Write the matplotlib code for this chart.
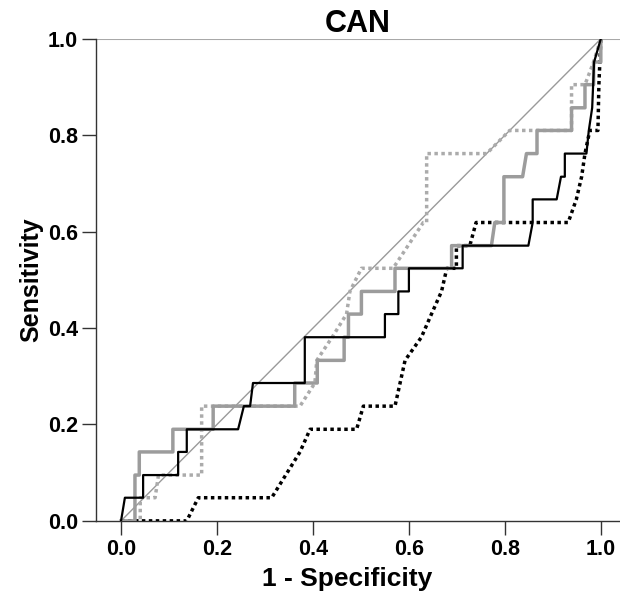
import matplotlib
matplotlib.use("Agg")
import matplotlib.pyplot as plt


TITLE = "CAN"
X_LABEL = "1 - Specificity"
Y_LABEL = "Sensitivity"

TICKS = [0.0, 0.2, 0.4, 0.6, 0.8, 1.0]
TICK_LABELS = ["0.0", "0.2", "0.4", "0.6", "0.8", "1.0"]

# black solid curve
black_solid_x = [0.000, 0.008, 0.046, 0.046, 0.119, 0.119, 0.137, 0.137, 0.244, 0.256,
                 0.269, 0.275, 0.383, 0.383, 0.550, 0.550, 0.578, 0.578, 0.600, 0.600,
                 0.712, 0.712, 0.849, 0.858, 0.858, 0.908, 0.917, 0.925, 0.925, 0.970,
                 0.975, 0.982, 0.986, 1.000]
black_solid_y = [0.000, 0.048, 0.048, 0.095, 0.095, 0.143, 0.143, 0.190, 0.190, 0.238,
                 0.238, 0.286, 0.286, 0.381, 0.381, 0.429, 0.429, 0.476, 0.476, 0.524,
                 0.524, 0.571, 0.571, 0.619, 0.667, 0.667, 0.714, 0.714, 0.762, 0.762,
                 0.810, 0.857, 0.952, 1.000]

# grey solid curve
grey_solid_x = [0.000, 0.029, 0.029, 0.038, 0.038, 0.108, 0.108, 0.192, 0.192, 0.362,
                0.362, 0.409, 0.409, 0.465, 0.465, 0.474, 0.474, 0.501, 0.501, 0.571,
                0.571, 0.689, 0.689, 0.772, 0.779, 0.798, 0.798, 0.837, 0.845, 0.867,
                0.867, 0.939, 0.939, 0.967, 0.967, 0.985, 0.985, 1.000, 1.000]
grey_solid_y = [0.000, 0.000, 0.095, 0.095, 0.143, 0.143, 0.190, 0.190, 0.238, 0.238,
                0.286, 0.286, 0.333, 0.333, 0.381, 0.381, 0.429, 0.429, 0.476, 0.476,
                0.524, 0.524, 0.571, 0.571, 0.619, 0.619, 0.714, 0.714, 0.762, 0.762,
                0.810, 0.810, 0.857, 0.857, 0.905, 0.905, 0.952, 0.952, 1.000]

# grey dotted curve
grey_dot_x = [0.000, 0.040, 0.040, 0.071, 0.078, 0.168, 0.168, 0.373, 0.404, 0.408,
              0.440, 0.470, 0.477, 0.501, 0.567, 0.630, 0.637, 0.637, 0.762, 0.810,
              0.939, 0.939, 0.967, 0.985, 1.000]
grey_dot_y = [0.000, 0.000, 0.048, 0.048, 0.095, 0.095, 0.238, 0.238, 0.286, 0.333,
              0.381, 0.429, 0.476, 0.524, 0.524, 0.619, 0.619, 0.762, 0.762, 0.810,
              0.810, 0.905, 0.905, 0.952, 1.000]

# black dotted curve
black_dot_x = [0.000, 0.137, 0.161, 0.314, 0.373, 0.394, 0.491, 0.505, 0.571, 0.592,
               0.626, 0.647, 0.668, 0.679, 0.699, 0.699, 0.727, 0.740, 0.932, 0.949,
               0.960, 0.967, 0.977, 0.994, 0.996, 0.998, 1.000]
black_dot_y = [0.000, 0.000, 0.048, 0.048, 0.143, 0.190, 0.190, 0.238, 0.238, 0.333,
               0.381, 0.429, 0.476, 0.524, 0.524, 0.571, 0.571, 0.619, 0.619, 0.667,
               0.714, 0.762, 0.810, 0.810, 0.905, 0.952, 1.000]


def main():

    plt.rcParams["font.family"] = ["Liberation Sans", "DejaVu Sans"]
    plt.rcParams["font.weight"] = "bold"

    fig = plt.figure(figsize=(6.2, 5.98), dpi=100)
    ax = fig.add_axes([0.155, 0.129, 0.845, 0.806])

    # reference lines
    ax.plot([0, 1], [0, 1], color="#9a9a9a", linewidth=1.0, zorder=1)
    ax.axhline(1.0, color="#a8a8a8", linewidth=1.5, zorder=1)

    ax.plot(grey_dot_x, grey_dot_y, color="#ababab", linewidth=2.5,
            linestyle=(0, (1, 1)), dash_capstyle="butt", zorder=2)
    ax.plot(black_dot_x, black_dot_y, color="black", linewidth=2.5,
            linestyle=(0, (1, 1)), dash_capstyle="butt", zorder=3)
    ax.plot(grey_solid_x, grey_solid_y, color="#9c9c9c", linewidth=2.5, zorder=4)
    ax.plot(black_solid_x, black_solid_y, color="black", linewidth=1.6, zorder=5)

    ax.set_xlim(-0.052, 1.04)
    ax.set_ylim(0.0, 1.0)

    ax.set_xticks(TICKS)
    ax.set_xticklabels(TICK_LABELS)
    ax.set_yticks(TICKS)
    ax.set_yticklabels(TICK_LABELS)

    ax.tick_params(axis="both", direction="out", length=10, width=1.0,
                   color="#333333", labelsize=15.5, pad=3)

    for side in ["top", "right"]:
        ax.spines[side].set_visible(False)
    for side in ["left", "bottom"]:
        ax.spines[side].set_color("#333333")
        ax.spines[side].set_linewidth(1.0)

    ax.set_title(TITLE, fontsize=22, fontweight="bold", pad=4)
    ax.set_xlabel(X_LABEL, fontsize=19, fontweight="bold")
    ax.set_ylabel(Y_LABEL, fontsize=18, fontweight="bold")
    ax.xaxis.set_label_coords(0.48, -0.095)
    ax.yaxis.set_label_coords(-0.10, 0.5)

    fig.savefig("out.png", dpi=100)
    plt.close(fig)


if __name__ == "__main__":
    main()
